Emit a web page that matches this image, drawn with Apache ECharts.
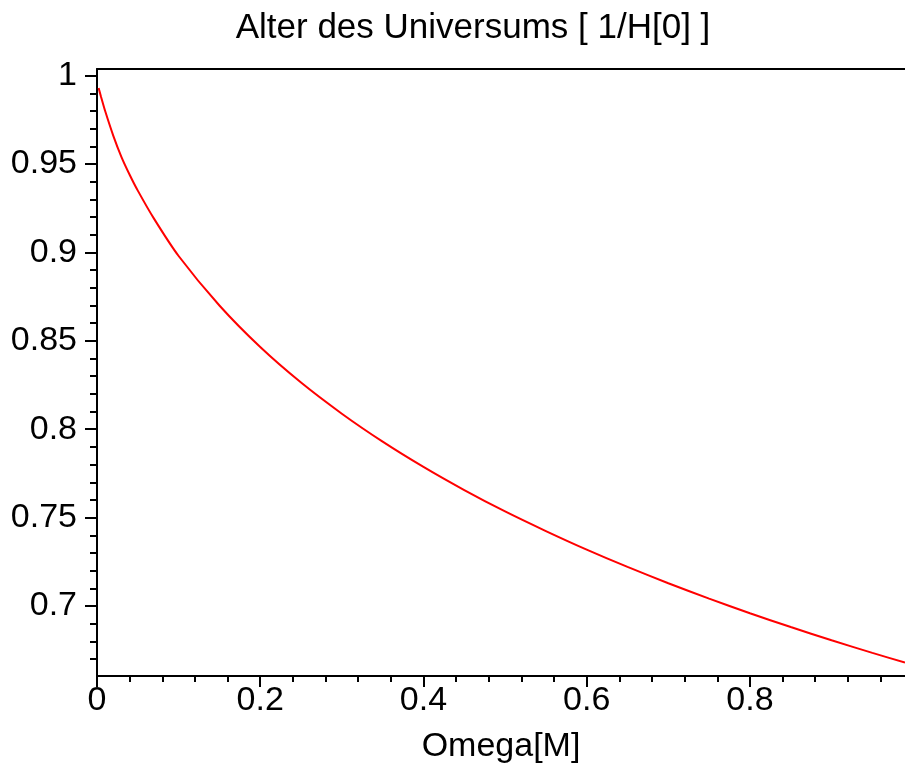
<!DOCTYPE html>
<html>
<head>
<meta charset="utf-8">
<script src="https://cdn.jsdelivr.net/npm/echarts@6/dist/echarts.min.js"></script>
<style>
  html, body { margin: 0; padding: 0; background: #fff; }
  #chart { width: 905px; height: 774px; }
</style>
</head>
<body>
<div id="chart"></div>
<script>
// ---- data ----
const omegaM = [0.002, 0.005, 0.01, 0.02, 0.03, 0.04, 0.05, 0.07, 0.1, 0.15, 0.2, 0.25, 0.3, 0.35, 0.4,
                0.45, 0.5, 0.55, 0.6, 0.65, 0.7, 0.75, 0.8, 0.85, 0.9, 0.95, 0.99];
const ageH0 = [0.993, 0.988, 0.980, 0.966, 0.954, 0.944, 0.935, 0.919, 0.898, 0.870, 0.8465, 0.8264, 0.8088, 0.7930, 0.7787,
               0.7656, 0.7535, 0.7424, 0.7319, 0.7221, 0.7129, 0.7042, 0.6959, 0.6881, 0.6806, 0.6735, 0.6680];

const xMajorTicks = [0, 0.2, 0.4, 0.6, 0.8];
const xTickLabels = ['0', '0.2', '0.4', '0.6', '0.8'];
const xMinorTicks = [0.04, 0.08, 0.12, 0.16, 0.24, 0.28, 0.32, 0.36, 0.44, 0.48, 0.52, 0.56,
                     0.64, 0.68, 0.72, 0.76, 0.84, 0.88, 0.92, 0.96];
const yMajorTicks = [0.7, 0.75, 0.8, 0.85, 0.9, 0.95, 1];
const yTickLabels = ['0.7', '0.75', '0.8', '0.85', '0.9', '0.95', '1'];
const yMinorTicks = [0.67, 0.68, 0.69, 0.71, 0.72, 0.73, 0.74, 0.76, 0.77, 0.78, 0.79,
                     0.81, 0.82, 0.83, 0.84, 0.86, 0.87, 0.88, 0.89, 0.91, 0.92, 0.93, 0.94,
                     0.96, 0.97, 0.98, 0.99];

const titleText = 'Alter des Universums [ 1/H[0] ]';
const xName = 'Omega[M]';

const xRange = [0, 0.99];
const yRange = [0.6604, 1.0038];

const FONT = '"Liberation Sans", Arial, sans-serif';
const lineCol = '#000';

function labelFor(values, labels) {
  return function (v) {
    for (let i = 0; i < values.length; i++) {
      if (Math.abs(values[i] - v) < 1e-9) return labels[i];
    }
    return '';
  };
}

const gridRect = { left: 97, right: 0, top: 69, bottom: 98 };

const chart = echarts.init(document.getElementById('chart'), null, { renderer: 'canvas' });
chart.setOption({
  animation: false,
  backgroundColor: '#fff',
  title: {
    text: titleText,
    left: 468,
    top: 6,
    textAlign: 'center',
    textStyle: { fontFamily: FONT, fontSize: 35, fontWeight: 'normal', color: '#000' }
  },
  grid: [
    Object.assign({ containLabel: false }, gridRect),
    Object.assign({ containLabel: false }, gridRect)
  ],
  xAxis: [
    {
      type: 'value', gridIndex: 0, position: 'bottom',
      min: xRange[0], max: xRange[1],
      name: xName, nameLocation: 'middle', nameGap: 54,
      nameTextStyle: { fontFamily: FONT, fontSize: 34, color: '#000' },
      axisLine: { show: true, onZero: false, lineStyle: { color: lineCol, width: 2 } },
      axisTick: { show: true, customValues: xMajorTicks, length: 11, lineStyle: { color: lineCol, width: 2 } },
      axisLabel: { show: true, customValues: xMajorTicks, margin: 8, fontFamily: FONT, fontSize: 34, color: '#000',
                   formatter: labelFor(xMajorTicks, xTickLabels) },
      splitLine: { show: false }
    },
    {
      type: 'value', gridIndex: 0, position: 'top',
      min: xRange[0], max: xRange[1],
      axisLine: { show: true, onZero: false, lineStyle: { color: lineCol, width: 2 } },
      axisTick: { show: false }, axisLabel: { show: false }, splitLine: { show: false }
    },
    {
      type: 'value', gridIndex: 1, position: 'bottom',
      min: xRange[0], max: xRange[1],
      axisLine: { show: false, onZero: false },
      axisTick: { show: true, customValues: xMinorTicks, length: 6, lineStyle: { color: lineCol, width: 2 } },
      axisLabel: { show: false }, splitLine: { show: false }
    }
  ],
  yAxis: [
    {
      type: 'value', gridIndex: 0, position: 'left',
      min: yRange[0], max: yRange[1],
      axisLine: { show: true, onZero: false, lineStyle: { color: lineCol, width: 2 } },
      axisTick: { show: true, customValues: yMajorTicks, length: 12, lineStyle: { color: lineCol, width: 2 } },
      axisLabel: { show: true, customValues: yMajorTicks, margin: 20, fontFamily: FONT, fontSize: 34, color: '#000',
                   formatter: labelFor(yMajorTicks, yTickLabels) },
      splitLine: { show: false }
    },
    {
      type: 'value', gridIndex: 1, position: 'left',
      min: yRange[0], max: yRange[1],
      axisLine: { show: false, onZero: false },
      axisTick: { show: true, customValues: yMinorTicks, length: 7, lineStyle: { color: lineCol, width: 2 } },
      axisLabel: { show: false }, splitLine: { show: false }
    }
  ],
  series: [
    {
      type: 'line',
      xAxisIndex: 0, yAxisIndex: 0,
      data: omegaM.map((x, i) => [x, ageH0[i]]),
      showSymbol: false,
      smooth: 0.25,
      lineStyle: { color: '#ff0000', width: 2 },
      silent: true
    }
  ]
});
</script>
</body>
</html>
